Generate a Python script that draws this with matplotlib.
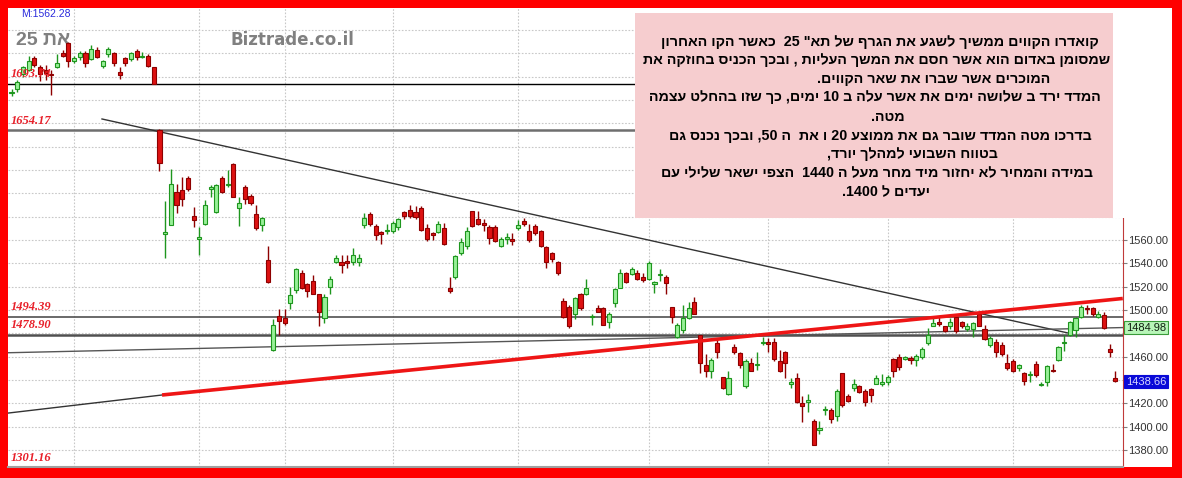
import re
import matplotlib
matplotlib.use("Agg")
import matplotlib.pyplot as plt
from matplotlib.patches import Rectangle

# ---- daily candles (TA-25), left to right ----
opens = [1686, 1689, 1702, 1706, 1716, 1708, 1706, 1702, 1708, 1720, 1729, 1713, 1717, 1720, 1715, 1723,
         1709, 1719, 1720, 1704, 1716, 1715, 1722, 1717, 1718, 1708,
         1654, 1565, 1573, 1601, 1603, 1613, 1581, 1561, 1574, 1604, 1584, 1613, 1607, 1625, 1587, 1605,
         1598, 1582, 1573, 1543,
         1466, 1495, 1493, 1506, 1517, 1532, 1522, 1525, 1514, 1493, 1520, 1541, 1541, 1542, 1541, 1541,
         1573, 1582, 1572, 1567, 1568, 1568, 1571, 1584, 1586, 1584, 1587, 1570, 1566, 1567, 1570, 1519,
         1528, 1549, 1555, 1585, 1578, 1575, 1571, 1571, 1555, 1561, 1561, 1570, 1576, 1568, 1572, 1568,
         1554, 1549, 1541,
         1508, 1503, 1497, 1514, 1514, 1494, 1502, 1502, 1490, 1506, 1519, 1532, 1531, 1532, 1528, 1527,
         1522, 1530, 1528, 1503,
         1477, 1483, 1493, 1507, 1479, 1453, 1448, 1472, 1443, 1428, 1468, 1463, 1435, 1455, 1453, 1472,
         1473, 1473, 1456, 1464, 1437, 1442, 1420, 1421, 1405, 1397, 1414, 1414, 1409, 1446, 1426, 1433,
         1435, 1431, 1432, 1437, 1437, 1438, 1458, 1460,
         1458, 1459, 1457, 1460, 1472, 1486, 1490, 1486, 1486, 1494, 1490, 1484, 1484, 1497, 1484, 1470,
         1473, 1470, 1455, 1456, 1450, 1446, 1444, 1454, 1436, 1438, 1449, 1457, 1472, 1479, 1483, 1494,
         1502, 1502, 1494, 1496, 1467, 1442]
highs = [1689, 1697, 1709, 1718, 1718, 1710, 1710, 1706, 1719, 1723, 1730, 1718, 1722, 1722, 1727, 1725,
         1714, 1725, 1721, 1708, 1717, 1721, 1724, 1721, 1719, 1708,
         1655, 1593, 1621, 1608, 1614, 1615, 1588, 1571, 1594, 1607, 1608, 1615, 1620, 1626, 1597, 1607,
         1599, 1590, 1580, 1555,
         1492, 1501, 1501, 1520, 1536, 1534, 1523, 1530, 1514, 1514, 1529, 1547, 1547, 1547, 1553, 1548,
         1583, 1584, 1574, 1568, 1574, 1576, 1579, 1585, 1590, 1589, 1589, 1574, 1567, 1576, 1575, 1528,
         1547, 1562, 1571, 1585, 1585, 1578, 1573, 1573, 1563, 1566, 1566, 1577, 1579, 1574, 1574, 1569,
         1555, 1550, 1542,
         1510, 1504, 1511, 1515, 1527, 1497, 1504, 1503, 1498, 1519, 1535, 1533, 1537, 1534, 1532, 1542,
         1525, 1535, 1530, 1503,
         1489, 1504, 1507, 1511, 1479, 1462, 1459, 1476, 1443, 1448, 1471, 1464, 1458, 1459, 1464, 1477,
         1476, 1476, 1466, 1465, 1442, 1446, 1426, 1428, 1407, 1405, 1418, 1416, 1432, 1446, 1428, 1441,
         1436, 1432, 1433, 1444, 1445, 1444, 1459, 1462,
         1461, 1461, 1462, 1468, 1485, 1495, 1494, 1486, 1493, 1495, 1491, 1489, 1490, 1499, 1487, 1478,
         1475, 1473, 1462, 1458, 1454, 1447, 1448, 1456, 1438, 1453, 1454, 1469, 1479, 1491, 1494, 1504,
         1504, 1503, 1499, 1498, 1471, 1448]
lows = [1683, 1687, 1700, 1705, 1708, 1696, 1697, 1684, 1707, 1717, 1708, 1712, 1714, 1708, 1714, 1716,
        1707, 1717, 1709, 1698, 1709, 1713, 1714, 1716, 1708, 1694,
        1619, 1545, 1573, 1583, 1589, 1602, 1571, 1547, 1573, 1597, 1583, 1600, 1605, 1597, 1572, 1591,
        1590, 1569, 1568, 1523,
        1465, 1479, 1487, 1501, 1515, 1518, 1511, 1514, 1486, 1489, 1514, 1540, 1532, 1536, 1539, 1538,
        1570, 1572, 1560, 1557, 1565, 1566, 1569, 1578, 1579, 1578, 1568, 1559, 1560, 1566, 1556, 1515,
        1527, 1547, 1552, 1571, 1573, 1568, 1557, 1558, 1554, 1557, 1556, 1569, 1572, 1558, 1564, 1554,
        1536, 1541, 1530,
        1493, 1485, 1492, 1500, 1513, 1487, 1498, 1487, 1485, 1503, 1519, 1523, 1530, 1526, 1524, 1526,
        1515, 1525, 1514, 1489,
        1476, 1480, 1492, 1497, 1446, 1443, 1442, 1459, 1432, 1427, 1462, 1450, 1433, 1448, 1449, 1470,
        1464, 1456, 1447, 1442, 1433, 1420, 1404, 1413, 1384, 1394, 1410, 1403, 1405, 1417, 1421, 1431,
        1429, 1418, 1421, 1437, 1435, 1436, 1443, 1449,
        1457, 1454, 1452, 1458, 1470, 1486, 1486, 1481, 1484, 1480, 1485, 1482, 1477, 1486, 1474, 1468,
        1460, 1461, 1449, 1447, 1448, 1436, 1438, 1443, 1435, 1435, 1447, 1456, 1465, 1478, 1477, 1493,
        1497, 1495, 1493, 1484, 1460, 1438]
closes = [1687, 1695, 1708, 1713, 1710, 1702, 1703, 1701, 1712, 1718, 1713, 1716, 1720, 1712, 1724, 1717,
          1713, 1724, 1712, 1701, 1712, 1720, 1717, 1717, 1709, 1694,
          1626, 1567, 1608, 1590, 1595, 1604, 1577, 1563, 1590, 1605, 1607, 1601, 1608, 1597, 1592, 1595,
          1592, 1570, 1579, 1524,
          1487, 1491, 1489, 1513, 1535, 1519, 1516, 1514, 1498, 1511, 1527, 1545, 1539, 1540, 1547, 1545,
          1579, 1574, 1564, 1565, 1569, 1575, 1578, 1581, 1581, 1580, 1569, 1561, 1564, 1574, 1557, 1516,
          1546, 1558, 1568, 1572, 1574, 1573, 1562, 1559, 1561, 1563, 1559, 1573, 1574, 1560, 1566, 1555,
          1541, 1544, 1532,
          1494, 1486, 1510, 1502, 1519, 1495, 1498, 1487, 1497, 1518, 1532, 1524, 1535, 1527, 1526, 1540,
          1524, 1531, 1523, 1494,
          1487, 1493, 1502, 1497, 1455, 1448, 1457, 1464, 1433, 1442, 1464, 1453, 1456, 1448, 1454, 1473,
          1471, 1458, 1448, 1455, 1438, 1421, 1418, 1423, 1384, 1399, 1414, 1407, 1431, 1419, 1422, 1437,
          1430, 1421, 1427, 1442, 1438, 1443, 1448, 1451,
          1460, 1457, 1461, 1467, 1479, 1489, 1488, 1482, 1490, 1482, 1486, 1486, 1489, 1486, 1475, 1476,
          1464, 1462, 1450, 1448, 1453, 1439, 1445, 1444, 1437, 1452, 1448, 1468, 1473, 1490, 1493, 1503,
          1501, 1497, 1497, 1485, 1464, 1439]

# horizontal levels drawn on the chart
levels = [1693.74, 1654.17, 1494.39, 1478.90]
bottom_label = "1301.16"
last_close = 1438.66
flat_end = 1484.98
max_label = "M:1562.28"

# trend lines: (candle index, price) at both ends
down_x, down_y = [15.9, 185.7], [1663.7, 1480.3]
up_x, up_y = [-0.62, 26.45], [1411.7, 1427.2]
red_x, red_y = [26.45, 195.3], [1427.2, 1509.9]
flat_x, flat_y = [-0.62, 195.3], [1463.4, 1484.98]

month_starts = [11, 33, 48, 67, 89, 112, 133, 154, 176]
yticks = [1380, 1400, 1420, 1440, 1460, 1500, 1520, 1540, 1560]

note_lines = [
    'קואדרו הקווים ממשיך לשגע את הגרף של תא" 25  כאשר הקו האחרון',
    'שמסומן באדום הוא אשר חסם את המשך העליות , ובכך הכניס בחוזקה את',
    'המוכרים אשר שברו את שאר הקווים.',
    'המדד ירד ב שלושה ימים את אשר עלה ב 10 ימים, כך שזו בהחלט עצמה',
    'מטה.',
    'בדרכו מטה המדד שובר גם את ממוצע 20 ו את  ה 50, ובכך נכנס גם',
    'בטווח השבועי למהלך יורד,',
    'במידה והמחיר לא יחזור מיד מחר מעל ה 1440  הצפי ישאר שלילי עם',
    'יעדים ל 1400.',
]
note_pos = [(880, 42), (877, 60), (934, 79), (875, 97), (888, 117),
            (880, 136), (912, 154), (877, 173), (886, 192)]

W, H = 1182, 478
HEB = ["Liberation Sans", "DejaVu Sans"]


def visual(s):
    """crude RTL -> visual order: flip the string, keep digit runs readable"""
    r = s[::-1]
    return re.sub(r"\d+", lambda m: m.group(0)[::-1], r)


def fx(x):
    return x / W


def fy(y):
    return 1 - y / H


fig = plt.figure(figsize=(W / 100, H / 100), dpi=100, facecolor="#FF0000")
# white chart panel inside the red frame
fig.patches.append(Rectangle((fx(8), fy(467)), fx(1172) - fx(8), fy(8) - fy(467),
                             transform=fig.transFigure, facecolor="white", edgecolor="none", zorder=-5))

ax = fig.add_axes([fx(8), fy(467), fx(1123) - fx(8), fy(8) - fy(467)])
ax.set_facecolor("white")
ax.set_xlim(-0.62, 195.34)
ax.set_ylim(1365.5, 1758.8)

# grid
for g in range(1380, 1760, 20):
    ax.axhline(g, color="#C8C8C8", lw=0.8, ls=(0, (1.5, 1.5)), zorder=1)
for m in month_starts:
    ax.axvline(m, color="#C8C8C8", lw=0.8, ls=(0, (1.5, 1.5)), zorder=1)

# levels
ax.axhline(levels[0], color="black", lw=1.0, zorder=2)
ax.axhline(levels[1], color="#6E6E6E", lw=1.8, zorder=2)
ax.axhline(levels[2], color="#505050", lw=1.2, zorder=2)
ax.axhline(levels[3], color="#505050", lw=1.8, zorder=2)
for lv in levels:
    ax.annotate(f"{lv:.2f}", xy=(0.002, lv), xycoords=("axes fraction", "data"),
                xytext=(0, 2.5), textcoords="offset points", ha="left", va="bottom",
                color="#E8202A", fontsize=9, fontstyle="italic", fontweight="bold",
                family="Liberation Serif", zorder=6)
ax.annotate(bottom_label, xy=(0.002, 0), xycoords="axes fraction", xytext=(0, 2),
            textcoords="offset points", ha="left", va="bottom", color="#E8202A",
            fontsize=9, fontstyle="italic", fontweight="bold", family="Liberation Serif")

# trend lines
ax.plot(down_x, down_y, color="#333333", lw=1.0, zorder=3)
ax.plot(up_x, up_y, color="#333333", lw=1.0, zorder=3)
ax.plot(flat_x, flat_y, color="#555555", lw=1.0, zorder=3)
ax.plot(red_x, red_y, color="#EE1515", lw=2.6, zorder=5, solid_capstyle="butt")

# candles
for i, (o, h, l, c) in enumerate(zip(opens, highs, lows, closes)):
    up = c >= o
    edge = "#1E961E" if up else "#8E0000"
    fill = "#98F098" if up else "#DD1111"
    ax.vlines(i, l, h, color=edge, lw=1.0, zorder=4)
    ax.bar(i, max(abs(c - o), 0.9), bottom=min(o, c), width=0.72, color=fill,
           edgecolor=edge, linewidth=0.8, zorder=4.5)

# watermarks
ax.text(fx(12) / (fx(1123) - fx(8)) - 0.0036, 0.93, "25 תא", transform=ax.transAxes,
        family=HEB, fontsize=14, fontweight="bold", color="#808080", va="center", ha="left",
        zorder=0.5)
ax.text(0.2, 0.93, "Biztrade.co.il", transform=ax.transAxes, family="DejaVu Sans",
        fontsize=12, fontweight="bold", color="#808080", va="center", ha="left", zorder=0.5)
fig.text(fx(21), fy(14), max_label, family="Liberation Sans", fontsize=7.5,
         color="#2A2ADC", va="center", ha="left")

# axis styling
for s in ["left", "top"]:
    ax.spines[s].set_visible(False)
ax.spines["bottom"].set_color("#A0A0A0")
ax.spines["bottom"].set_linewidth(1.5)
ax.spines["right"].set_color("#C03A3A")
ax.set_xticks([])
ax.yaxis.tick_right()
ax.set_yticks(yticks)
ax.set_yticklabels([f"{t:.2f}" for t in yticks], family="Liberation Sans", fontsize=8,
                   color="#333333")
ax.tick_params(axis="y", length=3, width=0.8, color="#808080", pad=1)

# value flags on the price axis
ax.annotate(f"{flat_end:.2f}", xy=(1.0, flat_end), xycoords=("axes fraction", "data"),
            xytext=(2, 0), textcoords="offset points", ha="left", va="center",
            family="Liberation Sans", fontsize=8, color="#102010",
            bbox=dict(boxstyle="square,pad=0.15", fc="#B8F5B8", ec="#3A9A3A", lw=0.8),
            annotation_clip=False, zorder=8)
ax.annotate(f"{last_close:.2f}", xy=(1.0, last_close), xycoords=("axes fraction", "data"),
            xytext=(2, 0), textcoords="offset points", ha="left", va="center",
            family="Liberation Sans", fontsize=8, color="#D8D8FF",
            bbox=dict(boxstyle="square,pad=0.15", fc="#0A0AD8", ec="#0A0AD8", lw=0.8),
            annotation_clip=False, zorder=8)

# comment box pasted over the chart
fig.patches.append(Rectangle((fx(635), fy(218)), fx(1172) - fx(635), fy(8) - fy(218),
                             transform=fig.transFigure, facecolor="white", edgecolor="none", zorder=10))
fig.patches.append(Rectangle((fx(635), fy(218)), fx(1113) - fx(635), fy(13) - fy(218),
                             transform=fig.transFigure, facecolor="#F6CDCF", edgecolor="none", zorder=11))
for line, (px, py) in zip(note_lines, note_pos):
    fig.text(fx(px), fy(py), visual(line), family=HEB, fontsize=10.3, fontweight="bold",
             color="black", ha="center", va="center", zorder=12)

fig.savefig("out.png", dpi=100, facecolor=fig.get_facecolor())
